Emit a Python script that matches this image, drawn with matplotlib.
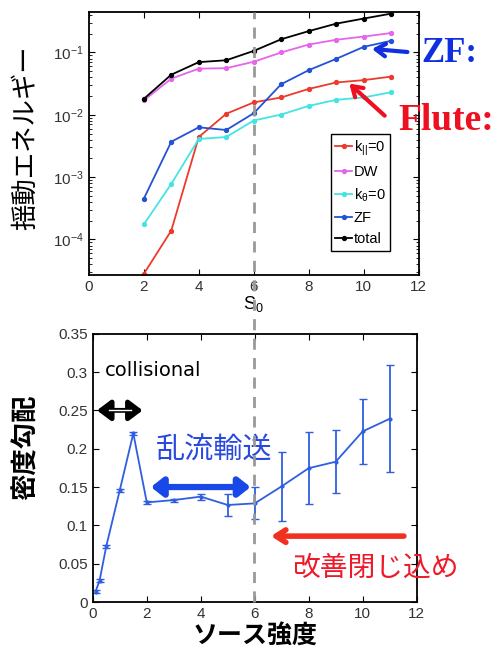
import numpy as np
import matplotlib
matplotlib.use("Agg")
import matplotlib.pyplot as plt
from matplotlib.lines import Line2D

plt.rcParams['font.family'] = ['Liberation Sans', 'Noto Sans CJK JP', 'DejaVu Sans']
plt.rcParams['mathtext.fontset'] = 'custom'
plt.rcParams['mathtext.rm'] = 'Liberation Sans'
plt.rcParams['mathtext.it'] = 'Liberation Sans'

# Övre panel: fluktuationsenergi mot S0
s0 = [2, 3, 4, 5, 6, 7, 8, 9, 10, 11]
k_par = [2.8e-5, 1.39e-4, 4.4e-3, 0.0104, 0.0158, 0.019, 0.026, 0.033, 0.036, 0.041]
dw = [0.017, 0.038, 0.055, 0.056, 0.071, 0.10, 0.134, 0.16, 0.18, 0.205]
k_theta = [1.74e-4, 7.8e-4, 4.1e-3, 4.4e-3, 8.1e-3, 0.0101, 0.0139, 0.0174, 0.019, 0.023]
zf = [4.5e-4, 3.7e-3, 6.3e-3, 5.7e-3, 0.0106, 0.031, 0.052, 0.079, 0.123, 0.154]
total = [0.018, 0.044, 0.070, 0.075, 0.106, 0.163, 0.22, 0.29, 0.35, 0.42]

# Nedre panel: densitetsgradient mot källstyrka
source = [0.1, 0.25, 0.5, 1, 1.5, 2, 3, 4, 5, 6, 7, 8, 9, 10, 11]
grad = [0.0135, 0.028, 0.073, 0.146, 0.22, 0.13, 0.133, 0.1375, 0.1266, 0.1287,
        0.151, 0.1746, 0.183, 0.2226, 0.239]
grad_err = [0.002, 0.002, 0.002, 0.002, 0.002, 0.002, 0.002, 0.004, 0.014, 0.021,
            0.045, 0.047, 0.041, 0.042, 0.07]

s_mark = 6

fig = plt.figure(figsize=(4.99, 6.53), dpi=100)
ax1 = fig.add_axes([0.178, 0.579, 0.661, 0.403])
ax2 = fig.add_axes([0.186, 0.078, 0.649, 0.411])

serier = [
    (k_par, '#ec3a2c', r'k$_{||}$=0'),
    (dw, '#e566ea', 'DW'),
    (k_theta, '#44e4e4', r'k$_{\theta}$=0'),
    (zf, '#2352d6', 'ZF'),
    (total, 'black', 'total'),
]
for vals, col, lab in serier:
    ax1.plot(s0, vals, marker='o', ms=2.8, color=col, lw=1.3, label=lab)

ax1.set_yscale('log')
ax1.set_xlim(0, 12)
ax1.set_ylim(2.7e-5, 0.45)
ax1.set_xticks([0, 2, 4, 6, 8, 10, 12])
ax1.set_yticks([1e-4, 1e-3, 1e-2, 1e-1])
ax1.set_xlabel(r'S$_0$', fontsize=13, labelpad=0)
ax1.set_ylabel('揺動エネルギー', fontsize=19, family='Noto Sans CJK JP')
ax1.yaxis.set_label_coords(-0.15, 0.52)
leg = ax1.legend(loc='lower right', bbox_to_anchor=(0.935, 0.065), fontsize=10.5,
                 handlelength=1.2, handletextpad=0.1, borderpad=0.3, labelspacing=0.5,
                 fancybox=False, framealpha=1, edgecolor='black')
leg.get_frame().set_linewidth(1.0)

ax2.errorbar(source, grad, yerr=grad_err, color='#2f5ee0', lw=1.3, marker='.', ms=4,
             capsize=3, elinewidth=1.3)
ax2.set_xlim(0, 12)
ax2.set_ylim(0, 0.35)
ax2.set_xticks([0, 2, 4, 6, 8, 10, 12])
ax2.set_yticks([0, 0.05, 0.1, 0.15, 0.2, 0.25, 0.3, 0.35])
ax2.set_yticklabels(['0', '0.05', '0.1', '0.15', '0.2', '0.25', '0.3', '0.35'])
ax2.set_xlabel('ソース強度', fontsize=18, family='Noto Sans CJK JP', weight='bold', labelpad=2)
ax2.set_ylabel('密度勾配', fontsize=19, family='Noto Sans CJK JP', weight='bold')
ax2.yaxis.set_label_coords(-0.165, 0.575)

for ax in (ax1, ax2):
    ax.tick_params(which='both', direction='in', top=True, right=True, labelsize=11,
                   labelcolor='#333333')
    ax.tick_params(which='major', length=4)
    for sp in ax.spines.values():
        sp.set_linewidth(1.3)

# Streckad linje vid S0 = 6 genom båda panelerna
inv = fig.transFigure.inverted()
x_top = inv.transform(ax1.transData.transform((s_mark, 1e-2)))[0]
y_top = ax1.get_position().y1
y_bot = ax2.get_position().y0
fig.add_artist(Line2D([x_top, x_top], [y_bot, y_top], transform=fig.transFigure,
                      color='#999999', lw=2, ls=(0, (4, 3)), zorder=5))

# Annoteringar övre panel
fig.text(0.845, 0.918, 'ZF:', color='#1030e0', fontsize=25, weight='bold',
         family='Liberation Serif', va='center')
ax1.annotate('', xy=(10.2, 0.115), xycoords='data', xytext=(0.822, 0.920),
             textcoords='figure fraction',
             arrowprops=dict(arrowstyle='->,head_length=0.7,head_width=0.45', color='#1030e0', lw=3))
fig.text(0.798, 0.815, 'Flute:', color='#ee1020', fontsize=27, weight='bold',
         family='Liberation Serif', va='center')
ax1.annotate('', xy=(9.4, 0.034), xycoords='data', xytext=(0.775, 0.82),
             textcoords='figure fraction',
             arrowprops=dict(arrowstyle='->,head_length=0.7,head_width=0.45', color='#ee1020', lw=3))

# Annoteringar nedre panel
ax2.text(0.45, 0.302, 'collisional', fontsize=14, family='DejaVu Sans', va='center')
ax2.annotate('', xy=(0.05, 0.25), xytext=(1.95, 0.25),
             arrowprops=dict(arrowstyle='<|-|>,head_length=0.8,head_width=0.6',
                             color='black', lw=3.5))
ax2.plot([0.6, 1.4], [0.25, 0.25], color='white', lw=1, zorder=6)
ax2.text(2.35, 0.198, '乱流輸送', fontsize=21, color='#2848e0', family='Noto Sans CJK JP',
         va='center')
ax2.annotate('', xy=(2.05, 0.15), xytext=(5.95, 0.15),
             arrowprops=dict(arrowstyle='<|-|>,head_length=0.7,head_width=0.55',
                             color='#1848e8', lw=4.5))
ax2.annotate('', xy=(6.5, 0.086), xycoords='data', xytext=(0.815, 0.179),
             textcoords='figure fraction',
             arrowprops=dict(arrowstyle='->,head_length=0.7,head_width=0.45',
                             color='#f03020', lw=4))
fig.text(0.585, 0.13, '改善閉じ込め', fontsize=20, color='#ee1a2a',
         family='Noto Sans CJK JP', va='center', zorder=6)

fig.savefig('out.png', dpi=100)
